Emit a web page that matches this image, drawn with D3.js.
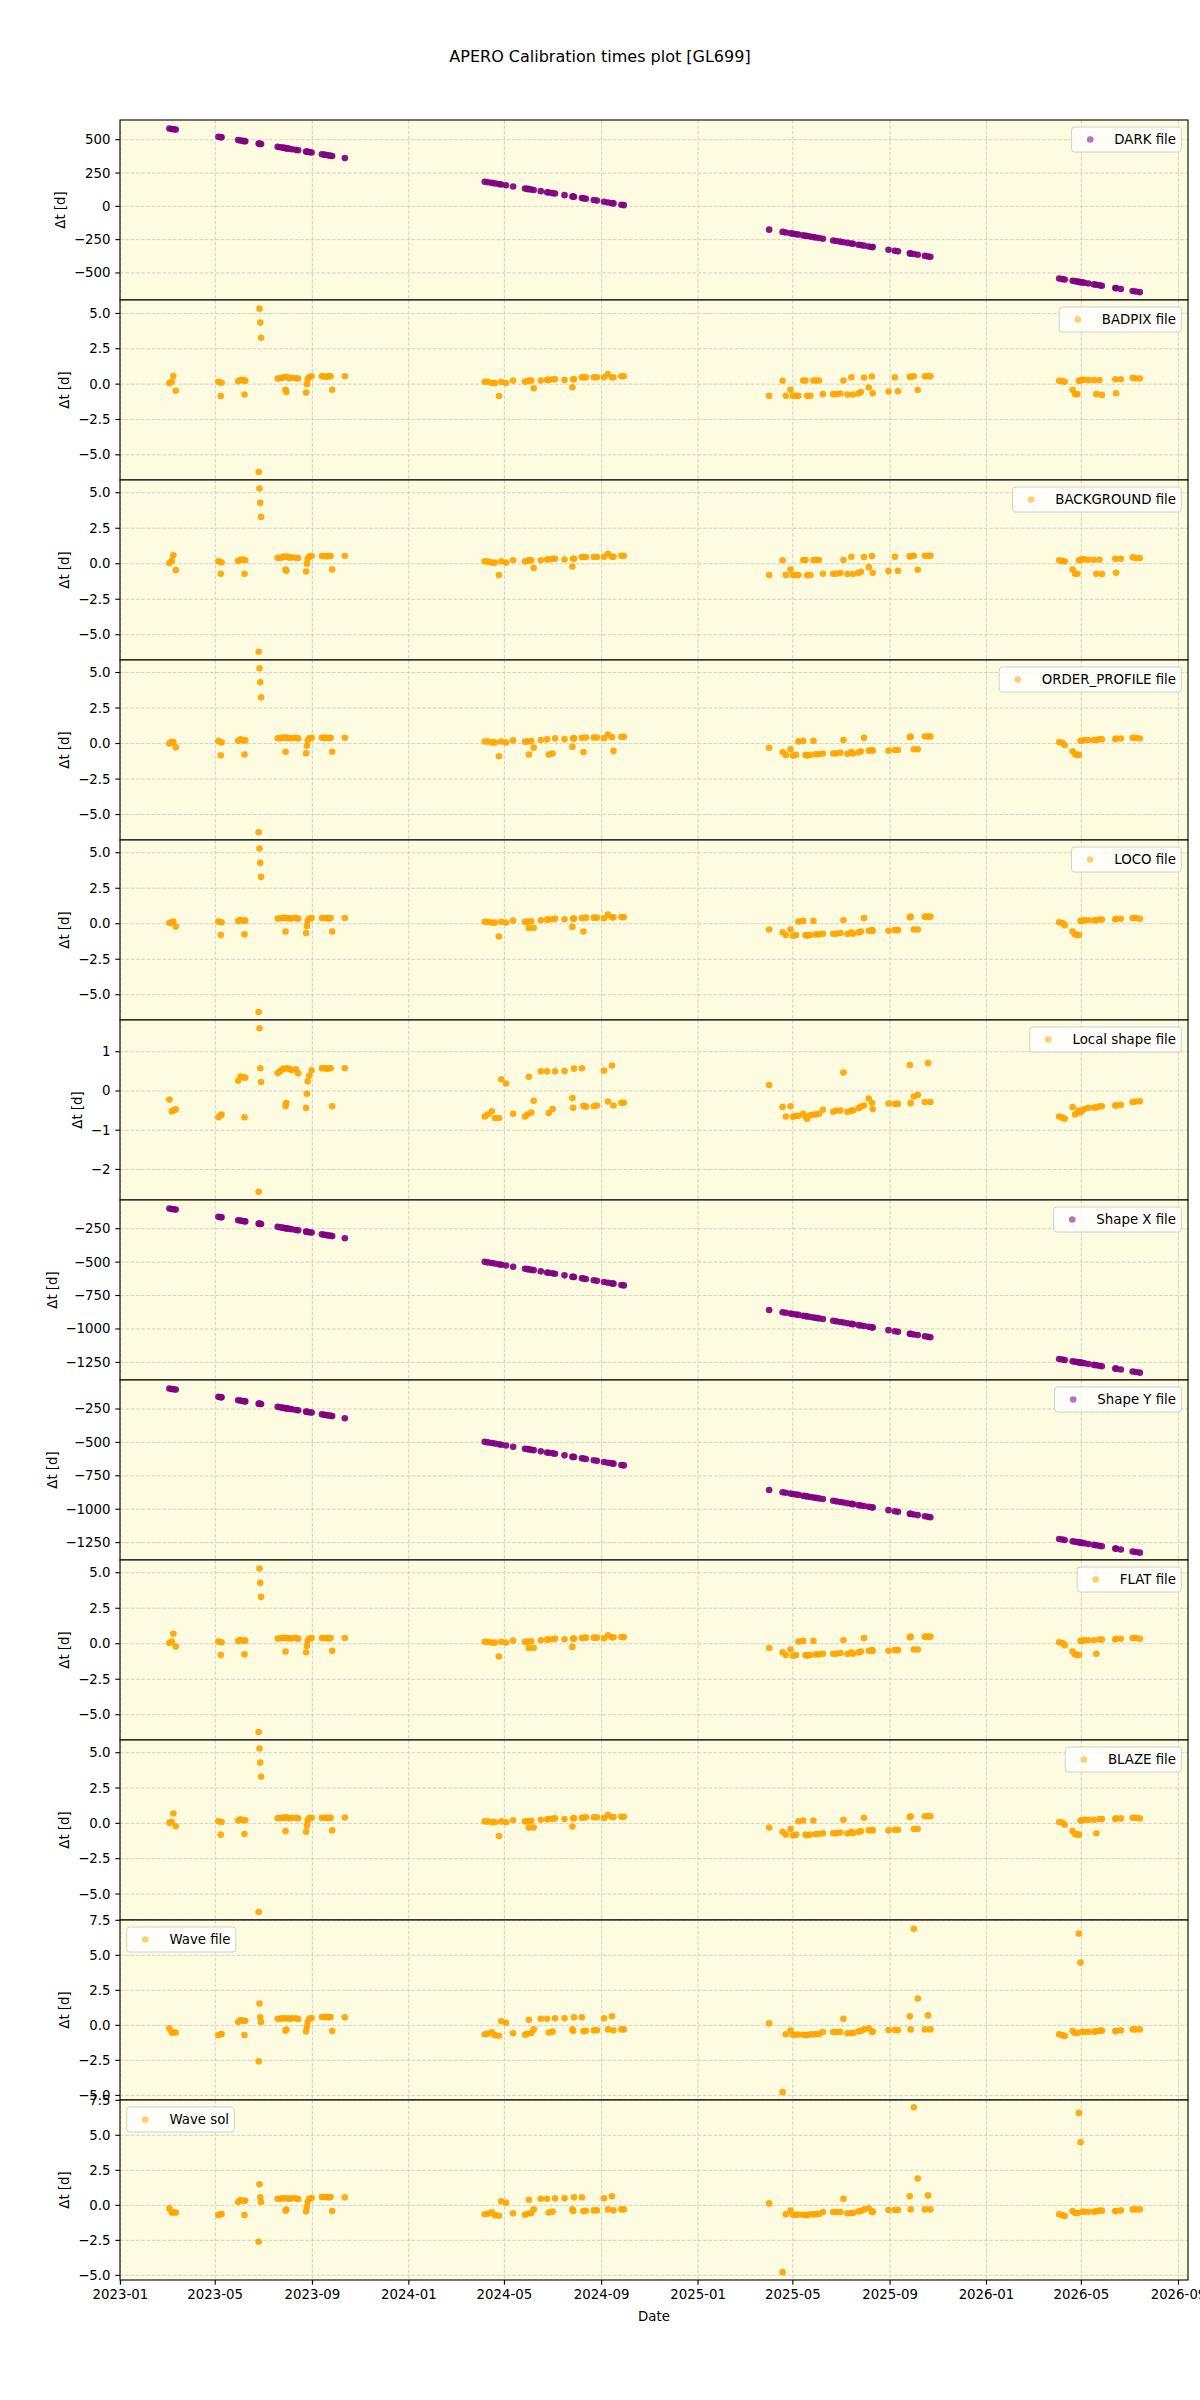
<!DOCTYPE html>
<html><head><meta charset="utf-8">
<script src="https://cdn.jsdelivr.net/npm/d3@7"></script>
<style>body{margin:0;background:#fff;} svg{display:block;font-family:"DejaVu Sans",sans-serif;}</style>
</head><body><svg id="chart" width="1200" height="2400"></svg>
<script>
// ---------------- data ----------------
const obsDates = [
"2023-03-04","2023-03-07","2023-03-09","2023-03-12","2023-05-05","2023-05-08","2023-05-09","2023-05-30","2023-06-02","2023-06-05",
"2023-06-07","2023-06-08","2023-06-25","2023-06-26","2023-06-27","2023-06-28","2023-07-19","2023-07-22","2023-07-25","2023-07-27",
"2023-07-29","2023-07-30","2023-07-31","2023-08-03","2023-08-06","2023-08-11","2023-08-14","2023-08-24","2023-08-25","2023-08-26",
"2023-08-28","2023-08-31","2023-09-13","2023-09-16","2023-09-19","2023-09-22","2023-09-24","2023-09-26","2023-10-12",
"2024-04-06","2024-04-10","2024-04-15","2024-04-19","2024-04-24","2024-04-27","2024-05-03","2024-05-12","2024-05-27","2024-05-30",
"2024-06-01","2024-06-04","2024-06-07","2024-06-16","2024-06-24","2024-06-26","2024-07-01","2024-07-04","2024-07-16","2024-07-26",
"2024-07-27","2024-07-28","2024-08-07","2024-08-09","2024-08-12","2024-08-22","2024-08-26","2024-09-04","2024-09-09","2024-09-14",
"2024-09-16","2024-09-26","2024-09-29",
"2025-04-01","2025-04-18","2025-04-22","2025-04-28","2025-05-01","2025-05-05","2025-05-08","2025-05-14","2025-05-17","2025-05-19",
"2025-05-23","2025-05-27","2025-05-30","2025-06-03","2025-06-08","2025-06-21","2025-06-25","2025-06-30","2025-07-04","2025-07-09",
"2025-07-14","2025-07-16","2025-07-23","2025-07-26","2025-07-30","2025-08-05","2025-08-09","2025-08-10","2025-08-30","2025-09-07",
"2025-09-11","2025-09-26","2025-09-27","2025-10-01","2025-10-06","2025-10-15","2025-10-19","2025-10-22",
"2026-04-03","2026-04-07","2026-04-10","2026-04-20","2026-04-23","2026-04-26","2026-04-28","2026-04-30","2026-05-02","2026-05-05",
"2026-05-10","2026-05-17","2026-05-20","2026-05-24","2026-05-27","2026-06-13","2026-06-14","2026-06-20","2026-07-05","2026-07-09",
"2026-07-14"];

const darkDt = [
584,581,579,576,522,519,518,497,494,491,489,488,471,470,469,468,447,444,441,439,
437,436,435,432,429,424,421,411,410,409,407,404,391,388,385,382,380,378,362,
185,181,176,172,167,164,158,149,134,131,129,126,123,114,106,104,99,96,84,74,
73,72,62,60,57,47,43,34,29,24,22,12,9,
-175,-192,-196,-202,-205,-209,-212,-218,-221,-223,-227,-231,-234,-238,-243,-256,-260,-265,-269,-274,
-279,-281,-288,-291,-295,-301,-305,-306,-326,-334,-338,-353,-354,-358,-363,-372,-376,-379,
-542,-546,-549,-559,-562,-565,-567,-569,-571,-574,-579,-586,-589,-593,-596,-613,-614,-620,-635,-639,-644];

const badpixDt = [
0.07,0.17,0.57,-0.47,0.17,-0.84,0.09,0.2,0.28,0.3,-0.73,0.23,-6.21,5.34,4.35,3.28,0.4,0.42,0.45,0.5,
-0.4,-0.55,0.5,0.42,0.45,0.42,0.4,-0.6,0.0,0.35,0.5,0.55,0.55,0.55,0.52,0.55,0.55,-0.4,0.56,
0.17,0.17,0.08,0.08,-0.84,0.17,0.08,0.25,0.17,0.2,0.25,0.25,-0.3,0.25,0.3,0.3,0.35,0.35,0.3,-0.22,
0.35,0.35,0.48,0.48,0.48,0.48,0.48,0.49,0.72,0.49,0.49,0.56,0.56,
-0.83,0.24,-0.83,-0.4,-0.83,-0.83,-0.83,0.26,0.26,-0.83,-0.83,0.26,0.26,0.26,-0.71,-0.71,-0.71,-0.66,0.26,-0.74,
0.49,-0.74,-0.66,-0.56,0.47,-0.24,0.54,-0.64,-0.52,0.49,-0.5,0.52,0.52,0.56,-0.42,0.56,0.56,0.56,
0.24,0.2,0.16,-0.4,-0.71,-0.71,0.24,0.24,0.31,0.31,0.28,0.28,-0.71,0.28,-0.76,0.35,-0.64,0.35,0.45,0.4,0.4];

const backgroundDt = [
0.05,0.2,0.6,-0.45,0.17,-0.7,0.1,0.2,0.28,0.3,-0.7,0.25,-6.2,5.3,4.3,3.3,0.4,0.42,0.45,0.5,
-0.4,-0.5,0.5,0.42,0.45,0.42,0.4,-0.55,0.0,0.35,0.5,0.55,0.55,0.55,0.52,0.55,0.55,-0.4,0.56,
0.17,0.15,0.08,0.08,-0.8,0.17,0.08,0.25,0.17,0.2,0.25,0.25,-0.3,0.25,0.3,0.3,0.35,0.35,0.3,-0.2,
0.35,0.35,0.48,0.48,0.48,0.48,0.48,0.49,0.7,0.49,0.49,0.56,0.56,
-0.8,0.24,-0.8,-0.4,-0.8,-0.8,-0.8,0.26,0.26,-0.8,-0.8,0.26,0.26,0.26,-0.7,-0.7,-0.7,-0.66,0.26,-0.72,
0.49,-0.72,-0.66,-0.56,0.47,-0.24,0.54,-0.64,-0.52,0.49,-0.5,0.52,0.52,0.56,-0.42,0.56,0.56,0.56,
0.24,0.2,0.16,-0.4,-0.7,-0.7,0.24,0.24,0.31,0.31,0.28,0.28,-0.7,0.28,-0.72,0.35,-0.64,0.35,0.45,0.4,0.4];

const orderProfileDt = [
0.01,0.13,0.1,-0.27,0.18,-0.83,0.08,0.2,0.29,0.22,-0.77,0.22,-6.25,5.3,4.31,3.25,0.37,0.38,0.4,0.42,
-0.58,0.4,0.41,0.37,0.38,0.4,0.36,-0.68,-0.16,0.2,0.37,0.4,0.4,0.4,0.4,0.38,0.4,-0.58,0.41,
0.14,0.14,0.08,0.08,-0.9,0.14,0.08,0.22,0.13,0.15,-0.77,0.18,-0.29,0.25,0.29,-0.77,-0.7,0.36,0.31,-0.22,
0.36,0.36,0.4,-0.6,0.43,0.43,0.43,0.38,0.64,0.45,-0.52,0.47,0.47,
-0.3,-0.6,-0.8,-0.4,-0.85,-0.8,0.15,0.2,-0.8,-0.85,-0.8,0.2,-0.75,-0.75,-0.7,-0.7,-0.7,-0.65,0.25,-0.72,
-0.6,-0.7,-0.62,-0.55,0.4,-0.5,-0.45,-0.5,-0.5,-0.45,-0.45,0.45,0.5,-0.4,-0.4,0.5,0.5,0.5,
0.1,0.05,-0.1,-0.55,-0.75,-0.8,-0.8,0.2,0.2,0.25,0.25,0.25,0.25,0.3,0.3,0.3,0.35,0.35,0.4,0.4,0.35];

const locoDt = [
0.05,0.1,0.15,-0.2,0.15,-0.8,0.1,0.2,0.28,0.22,-0.75,0.22,-6.22,5.3,4.3,3.3,0.37,0.38,0.4,0.42,
-0.55,0.4,0.41,0.37,0.38,0.4,0.36,-0.65,-0.15,0.2,0.37,0.4,0.4,0.4,0.4,0.38,0.4,-0.55,0.41,
0.14,0.14,0.08,0.08,-0.9,0.14,0.08,0.22,0.13,0.15,-0.3,0.18,-0.3,0.25,0.29,0.3,0.32,0.36,0.31,-0.22,
0.36,0.36,0.4,-0.55,0.43,0.43,0.43,0.38,0.64,0.45,0.45,0.47,0.47,
-0.4,-0.6,-0.8,-0.4,-0.85,-0.8,0.15,0.2,-0.8,-0.85,-0.8,0.2,-0.75,-0.75,-0.7,-0.7,-0.7,-0.65,0.25,-0.72,
-0.6,-0.7,-0.62,-0.55,0.4,-0.5,-0.45,-0.5,-0.5,-0.45,-0.45,0.45,0.5,-0.4,-0.4,0.5,0.5,0.5,
0.1,0.05,-0.1,-0.55,-0.75,-0.8,-0.8,0.2,0.2,0.25,0.25,0.25,0.25,0.3,0.3,0.3,0.35,0.35,0.4,0.4,0.35];

const localShapeDt = [
-0.22,-0.52,-0.5,-0.47,-0.67,-0.62,-0.6,0.26,0.37,0.35,-0.67,0.34,-2.57,1.6,0.58,0.23,0.46,0.5,0.55,0.57,
-0.38,-0.3,0.58,0.56,0.53,0.55,0.45,-0.43,-0.07,0.25,0.39,0.53,0.58,0.58,0.57,0.58,0.58,-0.39,0.58,
-0.65,-0.6,-0.52,-0.69,-0.69,0.3,0.19,-0.58,-0.65,-0.6,0.36,-0.55,-0.25,0.5,0.5,-0.56,-0.46,0.5,0.51,-0.18,
-0.43,0.57,0.58,-0.38,-0.4,-0.39,-0.37,0.52,-0.27,0.65,-0.37,-0.3,-0.3,
0.15,-0.41,-0.65,-0.39,-0.66,-0.63,-0.63,-0.58,-0.65,-0.71,-0.62,-0.6,-0.6,-0.58,-0.48,-0.53,-0.5,-0.5,0.47,-0.53,
-0.5,-0.5,-0.44,-0.4,-0.37,-0.19,-0.3,-0.46,-0.32,-0.33,-0.33,0.66,-0.31,-0.14,-0.1,-0.28,0.71,-0.28,
-0.65,-0.68,-0.71,-0.41,-0.6,-0.55,-0.5,-0.55,-0.5,-0.46,-0.43,-0.42,-0.42,-0.39,-0.39,-0.37,-0.37,-0.35,-0.28,-0.27,-0.26];

const shapeXDt = [
-99,-102,-104,-107,-161,-164,-165,-186,-189,-192,-194,-195,-212,-213,-214,-215,-236,-239,-242,-244,
-246,-247,-248,-251,-254,-259,-262,-272,-273,-274,-276,-279,-292,-295,-298,-301,-303,-305,-321,
-498,-502,-507,-511,-516,-519,-525,-534,-549,-552,-554,-557,-560,-569,-577,-579,-584,-587,-599,-609,
-610,-611,-621,-623,-626,-636,-640,-649,-654,-659,-661,-671,-674,
-858,-875,-879,-885,-888,-892,-895,-901,-904,-906,-910,-914,-917,-921,-926,-939,-943,-948,-952,-957,
-962,-964,-971,-974,-978,-984,-988,-989,-1009,-1017,-1021,-1036,-1037,-1041,-1046,-1055,-1059,-1062,
-1225,-1229,-1232,-1242,-1245,-1248,-1250,-1252,-1254,-1257,-1262,-1269,-1272,-1276,-1279,-1296,-1297,-1303,-1318,-1322,-1327];

const shapeYDt = [
-97,-100,-102,-105,-159,-162,-163,-184,-187,-190,-192,-193,-210,-211,-212,-213,-234,-237,-240,-242,
-244,-245,-246,-249,-252,-257,-260,-270,-271,-272,-274,-277,-290,-293,-296,-299,-301,-303,-319,
-496,-500,-505,-509,-514,-517,-523,-532,-547,-550,-552,-555,-558,-567,-575,-577,-582,-585,-597,-607,
-608,-609,-619,-621,-624,-634,-638,-647,-652,-657,-659,-669,-672,
-856,-873,-877,-883,-886,-890,-893,-899,-902,-904,-908,-912,-915,-919,-924,-937,-941,-946,-950,-955,
-960,-962,-969,-972,-976,-982,-986,-987,-1007,-1015,-1019,-1034,-1035,-1039,-1044,-1053,-1057,-1060,
-1223,-1227,-1230,-1240,-1243,-1246,-1248,-1250,-1252,-1255,-1260,-1267,-1270,-1274,-1277,-1294,-1295,-1301,-1316,-1320,-1325];

const flatDt = [
0.05,0.15,0.7,-0.2,0.15,-0.8,0.1,0.2,0.28,0.22,-0.75,0.22,-6.22,5.3,4.3,3.3,0.37,0.38,0.4,0.42,
-0.55,0.4,0.41,0.37,0.38,0.4,0.36,-0.6,-0.15,0.2,0.37,0.4,0.4,0.4,0.4,0.38,0.4,-0.5,0.41,
0.14,0.14,0.08,0.08,-0.9,0.14,0.08,0.22,0.13,0.15,-0.3,0.18,-0.3,0.25,0.29,0.3,0.32,0.36,0.31,-0.22,
0.36,0.36,0.4,0.42,0.43,0.43,0.43,0.38,0.6,0.45,0.45,0.47,0.47,
-0.3,-0.6,-0.8,-0.4,-0.85,-0.8,0.15,0.2,-0.8,-0.85,-0.8,0.2,-0.75,-0.75,-0.7,-0.7,-0.7,-0.65,0.25,-0.72,
-0.6,-0.7,-0.62,-0.55,0.4,-0.5,-0.45,-0.5,-0.5,-0.45,-0.45,0.45,0.5,-0.4,-0.4,0.5,0.5,0.5,
0.1,0.05,-0.1,-0.55,-0.75,-0.8,-0.8,0.2,0.2,0.25,0.25,0.25,-0.7,0.3,0.3,0.3,0.35,0.35,0.4,0.4,0.35];

const blazeDt = [
0.05,0.1,0.7,-0.2,0.15,-0.8,0.1,0.2,0.28,0.22,-0.75,0.22,-6.28,5.3,4.3,3.3,0.37,0.38,0.4,0.42,
-0.55,0.4,0.41,0.37,0.38,0.4,0.36,-0.6,-0.15,0.2,0.37,0.4,0.4,0.4,0.4,0.38,0.4,-0.5,0.41,
0.14,0.14,0.08,0.08,-0.9,0.14,0.08,0.22,0.13,0.15,-0.3,0.18,-0.3,0.25,0.29,0.3,0.32,0.36,0.31,-0.22,
0.36,0.36,0.4,0.42,0.43,0.43,0.43,0.38,0.6,0.45,0.45,0.47,0.47,
-0.3,-0.6,-0.8,-0.4,-0.85,-0.8,0.15,0.2,-0.8,-0.85,-0.8,0.2,-0.75,-0.75,-0.7,-0.7,-0.7,-0.65,0.25,-0.72,
-0.6,-0.7,-0.62,-0.55,0.4,-0.5,-0.45,-0.5,-0.5,-0.45,-0.45,0.45,0.5,-0.4,-0.4,0.5,0.5,0.5,
0.1,0.05,-0.1,-0.55,-0.75,-0.8,-0.8,0.2,0.2,0.25,0.25,0.25,-0.7,0.3,0.3,0.3,0.35,0.35,0.4,0.4,0.35];

const waveFileDt = [
-0.22,-0.52,-0.5,-0.52,-0.69,-0.64,-0.62,0.24,0.38,0.33,-0.69,0.33,-2.57,1.56,0.57,0.24,0.47,0.47,0.5,0.5,
-0.38,-0.3,0.5,0.47,0.5,0.5,0.45,-0.43,-0.1,0.24,0.47,0.52,0.59,0.59,0.59,0.57,0.59,-0.41,0.57,
-0.64,-0.6,-0.5,-0.7,-0.74,0.29,0.19,-0.57,-0.67,-0.6,0.4,-0.55,-0.29,0.47,0.47,-0.52,-0.45,0.5,0.5,-0.29,
-0.4,0.57,0.57,-0.41,-0.39,-0.36,-0.36,0.5,-0.29,0.64,-0.36,-0.29,-0.29,
0.14,-4.77,-0.64,-0.38,-0.67,-0.67,-0.65,-0.67,-0.69,-0.7,-0.64,-0.64,-0.64,-0.62,-0.48,-0.48,-0.48,-0.48,0.47,-0.57,
-0.55,-0.55,-0.43,-0.4,-0.29,-0.21,-0.45,-0.45,-0.33,-0.33,-0.33,0.64,-0.29,6.9,1.92,-0.29,0.71,-0.29,
-0.64,-0.7,-0.76,-0.41,-0.55,-0.55,6.55,4.48,-0.46,-0.46,-0.46,-0.46,-0.42,-0.38,-0.38,-0.41,-0.41,-0.36,-0.29,-0.29,-0.29];

const waveSolDt = [
-0.22,-0.52,-0.5,-0.52,-0.69,-0.64,-0.62,0.24,0.38,0.33,-0.69,0.33,-2.6,1.5,0.57,0.24,0.47,0.47,0.5,0.5,
-0.38,-0.3,0.5,0.47,0.5,0.5,0.45,-0.43,-0.1,0.24,0.47,0.52,0.59,0.59,0.59,0.57,0.59,-0.41,0.57,
-0.64,-0.6,-0.5,-0.7,-0.74,0.29,0.19,-0.57,-0.67,-0.6,0.4,-0.55,-0.29,0.47,0.47,-0.52,-0.45,0.5,0.5,-0.29,
-0.4,0.57,0.57,-0.41,-0.39,-0.36,-0.36,0.5,-0.29,0.64,-0.36,-0.29,-0.29,
0.14,-4.77,-0.64,-0.38,-0.67,-0.67,-0.65,-0.67,-0.69,-0.7,-0.64,-0.64,-0.64,-0.62,-0.48,-0.48,-0.48,-0.48,0.47,-0.57,
-0.55,-0.55,-0.43,-0.4,-0.29,-0.21,-0.45,-0.45,-0.33,-0.33,-0.33,0.64,-0.29,7.0,1.92,-0.29,0.71,-0.29,
-0.64,-0.7,-0.76,-0.41,-0.55,-0.55,6.6,4.5,-0.46,-0.46,-0.46,-0.46,-0.42,-0.38,-0.38,-0.41,-0.41,-0.36,-0.29,-0.29,-0.29];

const panelLabels = ["DARK file","BADPIX file","BACKGROUND file","ORDER_PROFILE file","LOCO file","Local shape file",
  "Shape X file","Shape Y file","FLAT file","BLAZE file","Wave file","Wave sol"];
const smallTicks = [-5,-2.5,0,2.5,5];
const darkTicks = [-500,-250,0,250,500];
const localShapeTicks = [-2,-1,0,1];
const shapeTicks = [-1250,-1000,-750,-500,-250];
const waveTicks = [-5,-2.5,0,2.5,5,7.5];

// ---------------- chart ----------------
const PURPLE = "purple", ORANGE = "orange";
const panels = [
 {values: darkDt, color: PURPLE, domain: [-703, 648], ticks: darkTicks, fmt: d3.format("d"), legend: "right"},
 {values: badpixDt, color: ORANGE, domain: [-6.78, 5.95], ticks: smallTicks, fmt: d3.format(".1f"), legend: "right"},
 {values: backgroundDt, color: ORANGE, domain: [-6.78, 5.9], ticks: smallTicks, fmt: d3.format(".1f"), legend: "right"},
 {values: orderProfileDt, color: ORANGE, domain: [-6.79, 5.88], ticks: smallTicks, fmt: d3.format(".1f"), legend: "right"},
 {values: locoDt, color: ORANGE, domain: [-6.78, 5.9], ticks: smallTicks, fmt: d3.format(".1f"), legend: "right"},
 {values: localShapeDt, color: ORANGE, domain: [-2.78, 1.81], ticks: localShapeTicks, fmt: d3.format("d"), legend: "right"},
 {values: shapeXDt, color: PURPLE, domain: [-1382, -35], ticks: shapeTicks, fmt: d3.format("d"), legend: "right"},
 {values: shapeYDt, color: PURPLE, domain: [-1380, -33], ticks: shapeTicks, fmt: d3.format("d"), legend: "right"},
 {values: flatDt, color: ORANGE, domain: [-6.78, 5.9], ticks: smallTicks, fmt: d3.format(".1f"), legend: "right"},
 {values: blazeDt, color: ORANGE, domain: [-6.84, 5.9], ticks: smallTicks, fmt: d3.format(".1f"), legend: "right"},
 {values: waveFileDt, color: ORANGE, domain: [-5.33, 7.52], ticks: waveTicks, fmt: d3.format(".1f"), legend: "left"},
 {values: waveSolDt, color: ORANGE, domain: [-5.33, 7.52], ticks: waveTicks, fmt: d3.format(".1f"), legend: "left"}
];

const svg = d3.select("#chart");
const L = 120, R = 1188, T0 = 120, PH = 180;
const FS = 13.33;
const parse = d3.utcParse("%Y-%m-%d");
const dates = obsDates.map(parse);
const x = d3.scaleUtc()
  .domain([new Date(Date.UTC(2022, 11, 31, 12)), new Date(Date.UTC(2026, 8, 13))])
  .range([L, R]);
const xTicks = x.ticks(d3.utcMonth.every(4));

svg.append("text").attr("x", 600).attr("y", 56).attr("text-anchor", "middle")
  .attr("dominant-baseline", "central").attr("font-size", 16).attr("fill", "#000")
  .text("APERO Calibration times plot [GL699]");

const defs = svg.append("defs");

panels.forEach((p, i) => {
  const top = T0 + i * PH, bot = top + PH;
  const y = d3.scaleLinear().domain(p.domain).range([bot, top]);
  const g = svg.append("g");
  defs.append("clipPath").attr("id", "clip" + i)
    .append("rect").attr("x", L).attr("y", top).attr("width", R - L).attr("height", PH);

  g.append("rect").attr("x", L).attr("y", top).attr("width", R - L).attr("height", PH)
    .attr("fill", "#fdfce1");

  const grid = g.append("g").attr("stroke", "#b8b8b8").attr("stroke-width", 0.8)
    .attr("stroke-dasharray", "3.7,1.6").attr("opacity", 0.75);
  grid.selectAll("line.h").data(p.ticks).join("line").attr("class", "h")
    .attr("x1", L).attr("x2", R).attr("y1", d => y(d)).attr("y2", d => y(d));
  grid.selectAll("line.v").data(xTicks).join("line").attr("class", "v")
    .attr("x1", d => x(d)).attr("x2", d => x(d)).attr("y1", top).attr("y2", bot);

  const pts = dates.map((d, k) => [d, p.values[k]]).filter(v => v[1] != null);
  g.append("g").attr("clip-path", "url(#clip" + i + ")")
    .selectAll("circle").data(pts).join("circle")
    .attr("cx", d => x(d[0])).attr("cy", d => y(d[1])).attr("r", 3.3)
    .attr("fill", p.color).attr("fill-opacity", 0.92);

  g.append("rect").attr("x", L).attr("y", top).attr("width", R - L).attr("height", PH)
    .attr("fill", "none").attr("stroke", "#000").attr("stroke-width", 1.1);

  // y axis
  const ya = g.append("g");
  ya.selectAll("line").data(p.ticks).join("line")
    .attr("x1", L - 4.7).attr("x2", L).attr("y1", d => y(d)).attr("y2", d => y(d))
    .attr("stroke", "#000").attr("stroke-width", 1.1);
  const labs = ya.selectAll("text").data(p.ticks).join("text")
    .attr("x", L - 9.5).attr("y", d => y(d)).attr("text-anchor", "end")
    .attr("dominant-baseline", "central").attr("font-size", FS).attr("fill", "#000")
    .text(d => p.fmt(d));
  let maxW = 0;
  labs.each(function () { maxW = Math.max(maxW, this.getComputedTextLength()); });
  const lx = L - 9.5 - maxW - 5.3 - 8;
  g.append("text").attr("transform", `translate(${lx},${(top + bot) / 2}) rotate(-90)`)
    .attr("text-anchor", "middle").attr("dominant-baseline", "central")
    .attr("font-size", FS).attr("fill", "#000").text("Δt [d]");

  // legend
  const lg = g.append("g");
  const txt = lg.append("text").attr("font-size", FS).attr("fill", "#000")
    .attr("dominant-baseline", "central").text(panelLabels[i]);
  const tw = txt.node().getComputedTextLength();
  const bw = 5.3 + 26.7 + 10.7 + tw + 5.3, bh = 25;
  const bx = p.legend === "right" ? R - 6.7 - bw : L + 6.7;
  const by = top + 7;
  lg.insert("rect", "text").attr("x", bx).attr("y", by).attr("width", bw).attr("height", bh)
    .attr("rx", 3).attr("fill", "#fff").attr("fill-opacity", 0.8)
    .attr("stroke", "#d0d0d0").attr("stroke-width", 1);
  lg.append("circle").attr("cx", bx + 5.3 + 13.3).attr("cy", by + bh / 2).attr("r", 3.3)
    .attr("fill", p.color).attr("fill-opacity", 0.55);
  txt.attr("x", bx + 5.3 + 26.7 + 10.7).attr("y", by + bh / 2);

  if (i === panels.length - 1) {
    const xa = svg.append("g");
    xa.selectAll("line").data(xTicks).join("line")
      .attr("x1", d => x(d)).attr("x2", d => x(d)).attr("y1", bot).attr("y2", bot + 4.7)
      .attr("stroke", "#000").attr("stroke-width", 1.1);
    xa.selectAll("text").data(xTicks).join("text")
      .attr("x", d => x(d)).attr("y", bot + 9.5).attr("text-anchor", "middle")
      .attr("dominant-baseline", "hanging").attr("font-size", FS).attr("fill", "#000")
      .text(d3.utcFormat("%Y-%m"));
    svg.append("text").attr("x", (L + R) / 2).attr("y", bot + 36).attr("text-anchor", "middle")
      .attr("dominant-baseline", "central").attr("font-size", FS).attr("fill", "#000").text("Date");
  }
});
</script></body></html>
